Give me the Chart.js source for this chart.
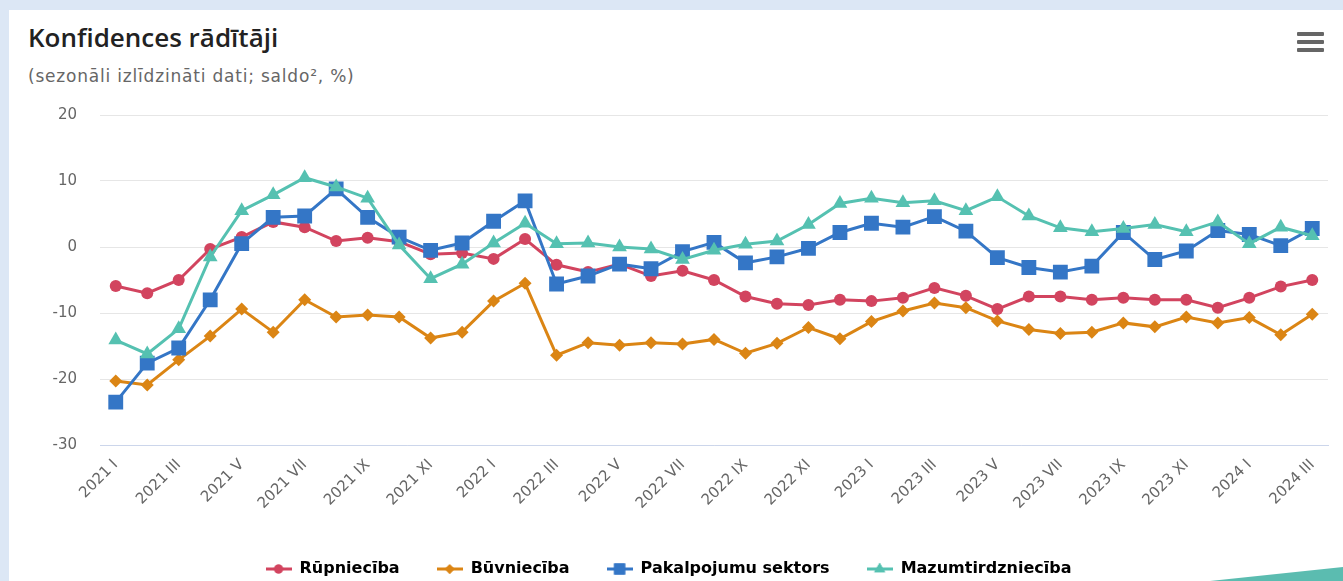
<!DOCTYPE html>
<html lang="lv">
<head>
<meta charset="utf-8">
<title>Konfidences rādītāji</title>
<script src="https://cdn.jsdelivr.net/npm/chart.js@4.4.1/dist/chart.umd.min.js"></script>
<style>
  html, body { margin: 0; padding: 0; }
  body {
    width: 1343px; height: 581px; overflow: hidden;
    background: #dce7f5;
    font-family: "DejaVu Sans", sans-serif;
    position: relative;
  }
  .card {
    position: absolute; left: 9px; top: 10px; right: 0; bottom: 0;
    background: #fff;
  }
  .title {
    position: absolute; left: 28px; top: 19px;
    font-family: "Open Sans", sans-serif;
    font-size: 26px; font-weight: 600; color: #222;
  }
  .subtitle {
    position: absolute; left: 28px; top: 66px;
    font-size: 17px; letter-spacing: 0.8px; color: #666;
  }
  .menu { position: absolute; left: 1297px; top: 32px; width: 27px; }
  .menu span { display: block; height: 4px; margin-bottom: 4px; background: #666; border-radius: 1px; }
  .chart-box { position: absolute; left: 9px; top: 95px; width: 1334px; height: 492px; }
  .corner {
    position: absolute; right: 0; bottom: 0; width: 133px; height: 14px;
    background: #5bbcb0;
    clip-path: polygon(0 100%, 100% 0, 100% 100%);
  }
</style>
</head>
<body>
<div class="card"></div>
<div class="title">Konfidences rādītāji</div>
<div class="subtitle">(sezonāli izlīdzināti dati; saldo², %)</div>
<div class="menu"><span></span><span></span><span></span></div>
<div class="chart-box"><canvas id="chart"></canvas></div>
<div class="corner"></div>
<script>
const months = ['I', 'II', 'III', 'IV', 'V', 'VI', 'VII', 'VIII', 'IX', 'X', 'XI', 'XII'];
const labels = [];
for (let y = 2021; y <= 2024; y++) {
  for (let m = 0; m < 12; m++) {
    if (y === 2024 && m > 2) break;
    labels.push(y + ' ' + months[m]);
  }
}

const rupnieciba = [-5.9, -7.0, -5.0, -0.3, 1.5, 3.8, 3.0, 0.9, 1.4, 0.8, -1.1, -0.9, -1.8, 1.2,
  -2.7, -3.8, -2.6, -4.4, -3.6, -5.0, -7.5, -8.6, -8.8, -8.0, -8.2, -7.7, -6.2, -7.4, -9.4,
  -7.5, -7.5, -8.0, -7.7, -8.0, -8.0, -9.2, -7.7, -6.0, -5.0];
const buvnieciba = [-20.3, -20.9, -17.1, -13.5, -9.4, -12.9, -8.0, -10.6, -10.3, -10.6, -13.8, -12.9,
  -8.2, -5.5, -16.4, -14.5, -14.9, -14.5, -14.7, -14.0, -16.1, -14.6, -12.2, -13.9, -11.3, -9.7,
  -8.5, -9.2, -11.2, -12.5, -13.1, -12.9, -11.5, -12.1, -10.6, -11.5, -10.7, -13.3, -10.2];
const pakalpojumi = [-23.5, -17.6, -15.3, -8.0, 0.5, 4.5, 4.7, 8.8, 4.5, 1.5, -0.5, 0.6, 3.9, 7.0,
  -5.6, -4.4, -2.6, -3.3, -0.7, 0.7, -2.4, -1.5, -0.2, 2.2, 3.6, 3.0, 4.6, 2.4, -1.6, -3.1, -3.8,
  -2.9, 2.2, -1.9, -0.6, 2.5, 1.9, 0.2, 2.8];
const mazumtirdznieciba = [-14.1, -16.2, -12.4, -1.5, 5.5, 7.9, 10.5, 9.1, 7.4, 0.3, -4.8, -2.6, 0.6,
  3.6, 0.5, 0.6, 0.0, -0.3, -1.9, -0.5, 0.4, 0.9, 3.4, 6.6, 7.4, 6.7, 7.0, 5.5, 7.6, 4.7, 2.9, 2.3,
  2.8, 3.4, 2.3, 3.8, 0.5, 3.0, 1.7];
const yTicks = [-30, -20, -10, 0, 10, 20];

const series = [
  { name: 'Rūpniecība', data: rupnieciba, color: '#d2445f', style: 'circle', radius: 6 },
  { name: 'Būvniecība', data: buvnieciba, color: '#db8514', style: 'rectRot', radius: 6.5 },
  { name: 'Pakalpojumu sektors', data: pakalpojumi, color: '#3476c6', style: 'rect', radius: 10.5 },
  { name: 'Mazumtirdzniecība', data: mazumtirdznieciba, color: '#55c1b1', style: 'triangle', radius: 8.5 }
];

// legend symbol: short line with the marker in the middle
function legendSymbol(s) {
  const c = document.createElement('canvas');
  c.width = 26; c.height = 14;
  const ctx = c.getContext('2d');
  ctx.strokeStyle = s.color; ctx.lineWidth = 3;
  ctx.beginPath(); ctx.moveTo(0, 7); ctx.lineTo(26, 7); ctx.stroke();
  ctx.fillStyle = s.color;
  Chart.helpers.drawPoint(ctx, { pointStyle: s.style, radius: s.radius * 0.75, rotation: 0, borderWidth: 0 }, 13, 7);
  ctx.fill();
  return c;
}

const tickFont = { family: 'DejaVu Sans', size: 15 };

new Chart(document.getElementById('chart'), {
  type: 'line',
  data: {
    labels: labels,
    datasets: series.map((s, i) => ({
      label: s.name,
      data: s.data,
      borderColor: s.color,
      backgroundColor: s.color,
      borderWidth: 3,
      pointStyle: s.style,
      pointRadius: s.radius,
      pointHoverRadius: s.radius,
      pointBorderWidth: 0,
      tension: 0,
      order: series.length - i
    }))
  },
  options: {
    responsive: true,
    maintainAspectRatio: false,
    animation: false,
    layout: { padding: { left: 0, right: 15, top: 20, bottom: 0 } },
    plugins: {
      tooltip: { enabled: false },
      legend: {
        position: 'bottom',
        labels: {
          usePointStyle: true,
          pointStyleWidth: 26,
          padding: 37,
          color: '#333',
          font: { family: 'DejaVu Sans', size: 16, weight: 'bold' },
          generateLabels: (ch) => series.map((s, i) => ({
            text: s.name,
            datasetIndex: i,
            pointStyle: legendSymbol(s),
            fillStyle: s.color,
            strokeStyle: s.color,
            lineWidth: 0,
            hidden: !ch.isDatasetVisible(i)
          }))
        }
      }
    },
    scales: {
      x: {
        offset: true,
        grid: { display: false },
        border: { color: '#ccd6eb', width: 1 },
        ticks: {
          autoSkip: false,
          minRotation: 45,
          maxRotation: 45,
          color: '#666',
          font: tickFont,
          callback: function (v, i) { return i % 2 === 0 ? labels[i] : ''; }
        },
        afterFit: (scale) => { scale.height = 79; }
      },
      y: {
        min: yTicks[0],
        max: yTicks[yTicks.length - 1],
        afterBuildTicks: (scale) => { scale.ticks = yTicks.map(v => ({ value: v })); },
        grid: { color: '#e6e6e6', drawTicks: false },
        border: { display: false },
        ticks: {
          padding: 23,
          color: '#666',
          font: tickFont
        },
        afterFit: (scale) => {
          scale.width = 91;
          scale.paddingTop = 0;
          scale.paddingBottom = 0;
        }
      }
    }
  }
});
</script>
</body>
</html>
